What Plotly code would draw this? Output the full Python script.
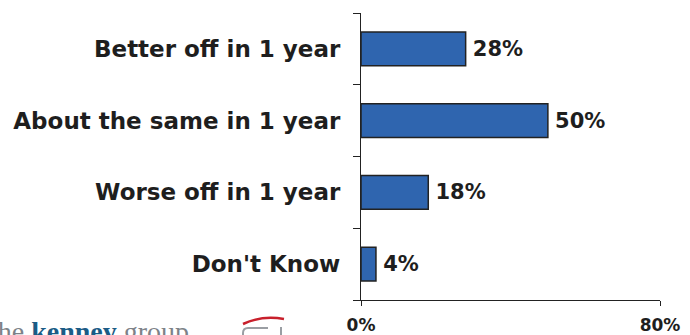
import plotly.graph_objects as go

# Survey responses
categories = [
    "Better off in 1 year",
    "About the same in 1 year",
    "Worse off in 1 year",
    "Don't Know",
]
percent_values = [28, 50, 18, 4]

x_tick_values = [0, 80]
x_tick_labels = ["0%", "80%"]

W, H = 690, 335
ML, MR, MT, MB = 361, 30, 13, 35
PW, PH = W - ML - MR, H - MT - MB

FONT = "Verdana, DejaVu Sans, sans-serif"
TEXT_COLOR = "#1e1e1e"
BAR_COLOR = "#2f65af"


def px_x(x):
    return (x - ML) / PW


def px_y(y):
    return (H - MB - y) / PH


fig = go.Figure(
    go.Bar(
        x=percent_values,
        y=categories,
        orientation="h",
        width=0.47,
        marker=dict(color=BAR_COLOR, line=dict(color="#222222", width=1.5)),
        text=[f"<b>\u2009{v}%</b>" for v in percent_values],
        textposition="outside",
        textfont=dict(family=FONT, size=21, color=TEXT_COLOR),
        cliponaxis=False,
        hoverinfo="skip",
    )
)

# Logo strip at the lower left
annotations = [
    dict(
        text="the <b><span style='color:#1b5c86'>kenney</span></b> group",
        xref="paper", yref="paper",
        x=px_x(-12), y=px_y(314),
        xanchor="left", yanchor="top",
        showarrow=False,
        font=dict(family="Liberation Serif, serif", size=28, color="#7d8288"),
    ),
]

shapes = [
    # red swoosh
    dict(
        type="path", xref="paper", yref="paper",
        path=(
            f"M {px_x(243)},{px_y(324)} "
            f"Q {px_x(262)},{px_y(315)} {px_x(284)},{px_y(319)}"
        ),
        line=dict(color="#c8202c", width=2.5),
    ),
    # grey emblem outline
    dict(
        type="path", xref="paper", yref="paper",
        path=(
            f"M {px_x(268)},{px_y(328)} "
            f"L {px_x(248)},{px_y(328)} "
            f"Q {px_x(243)},{px_y(328)} {px_x(243)},{px_y(333)} "
            f"L {px_x(243)},{px_y(340)}"
        ),
        line=dict(color="#9a9ea3", width=2),
    ),
    dict(
        type="line", xref="paper", yref="paper",
        x0=px_x(281), x1=px_x(281), y0=px_y(327), y1=px_y(340),
        line=dict(color="#9a9ea3", width=2),
    ),
]

fig.update_layout(
    width=W,
    height=H,
    margin=dict(l=ML, r=MR, t=MT, b=MB, autoexpand=False),
    paper_bgcolor="white",
    plot_bgcolor="white",
    showlegend=False,
    bargap=0.53,
    annotations=annotations,
    shapes=shapes,
    xaxis=dict(
        range=[0, 80],
        automargin=False,
        tickvals=x_tick_values,
        ticktext=[f"<b>{t}</b>" for t in x_tick_labels],
        tickfont=dict(family=FONT, size=17, color=TEXT_COLOR),
        showgrid=False,
        zeroline=False,
        showline=True,
        linecolor="#222222",
        linewidth=1.3,
        ticks="outside",
        ticklen=5,
        tickcolor="#222222",
        tickwidth=1.3,
        ticklabelstandoff=4,
        fixedrange=True,
    ),
    yaxis=dict(
        categoryorder="array",
        categoryarray=categories,
        autorange="reversed",
        automargin=False,
        tickson="boundaries",
        ticks="outside",
        ticklen=7,
        tickcolor="#222222",
        tickwidth=1.3,
        showline=True,
        linecolor="#222222",
        linewidth=1.3,
        showgrid=False,
        tickmode="array",
        tickvals=categories,
        ticktext=[f"<b>{c}</b>" for c in categories],
        tickfont=dict(family=FONT, size=23, color=TEXT_COLOR),
        ticklabelstandoff=15,
        fixedrange=True,
    ),
)

fig.write_html("out.html", config={"displayModeBar": False})
